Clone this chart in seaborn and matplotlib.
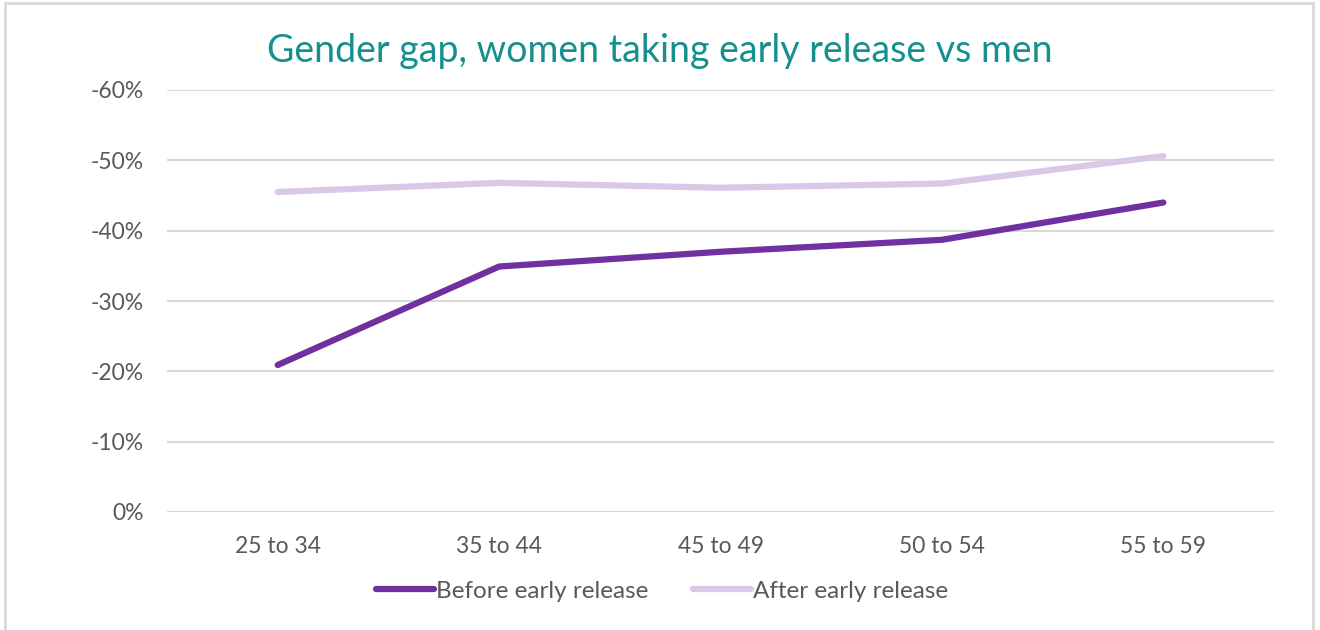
import pandas as pd
import seaborn as sns
import matplotlib.pyplot as plt
from matplotlib.ticker import FuncFormatter

# Data (percentage gap, women vs men)
age_groups = ["25 to 34", "35 to 44", "45 to 49", "50 to 54", "55 to 59"]
before_release = [-20.9, -34.9, -37.0, -38.7, -44.0]
after_release = [-45.5, -46.8, -46.1, -46.7, -50.6]
series_names = ["Before early release", "After early release"]

df = pd.DataFrame({
    "age": age_groups * 2,
    "gap": before_release + after_release,
    "series": [series_names[0]] * 5 + [series_names[1]] * 5,
})

sns.set_theme(style="white")
plt.rcParams["font.family"] = ["Lato", "DejaVu Sans"]

text_grey = "#595959"
fig = plt.figure(figsize=(13.2, 6.3), dpi=100)
ax = fig.add_axes([167 / 1320, 1 - 512 / 630, (1274 - 167) / 1320, (512 - 90) / 630])

sns.lineplot(data=df, x="age", y="gap", hue="series", sort=False,
             palette=["#7030A0", "#D9C8E6"], linewidth=4.5, ax=ax,
             solid_capstyle="round")

ax.set_xlim(-0.5, 4.5)
ax.set_ylim(0, -60)  # inverted: 0% at bottom, -60% at top
ax.set_yticks([0, -10, -20, -30, -40, -50, -60])
ax.yaxis.set_major_formatter(FuncFormatter(lambda v, p: f"{v:.0f}%"))
ax.grid(axis="y", color="#D9D9D9", linewidth=1.5)
ax.set_axisbelow(True)
for s in ax.spines.values():
    s.set_visible(False)
ax.tick_params(axis="both", length=0, labelsize=16.5, colors=text_grey)
ax.tick_params(axis="y", pad=17)
ax.tick_params(axis="x", pad=17)
ax.set_xlabel("")
ax.set_ylabel("")

fig.text(0.5, 1 - 51 / 630, "Gender gap, women taking early release vs men",
         ha="center", va="center", fontsize=27, color="#14908F")

ax.legend(loc="center", bbox_to_anchor=((662 - 167) / (1274 - 167), (512 - 591) / (512 - 90)),
          ncol=2, frameon=False, fontsize=17.5, handlelength=2.4, handletextpad=0.1,
          columnspacing=1.8, labelcolor=text_grey)

# light grey border around the chart
fig.patches.append(plt.Rectangle((5 / 1320, -0.02), 1308 / 1320, 1 - 3 / 630 + 0.02,
                                 transform=fig.transFigure, fill=False,
                                 edgecolor="#D9D9D9", linewidth=2))

fig.savefig("out.png", dpi=100)
